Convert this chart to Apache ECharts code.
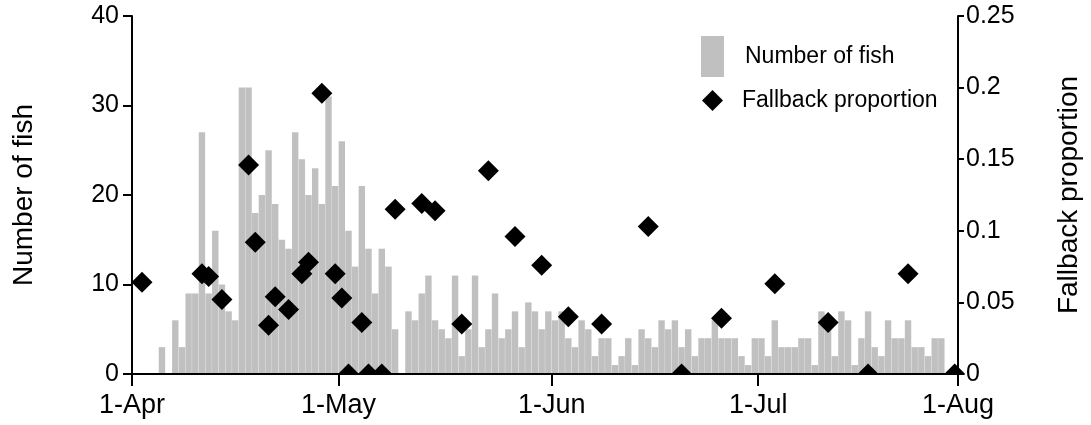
<!DOCTYPE html>
<html>
<head>
<meta charset="utf-8">
<script src="https://cdn.jsdelivr.net/npm/echarts@6/dist/echarts.min.js"></script>
<style>
  html, body { margin: 0; padding: 0; background: #fff; }
  #chart { width: 1091px; height: 425px; }
</style>
</head>
<body>
<div id="chart"></div>
<script>
// Daily number of fish, index 0 = 1-Apr
const fishCounts = [
  0, 0, 0, 0, 3, 0, 6, 3, 9, 9,
  27, 9, 16, 10, 7, 6, 32, 32, 18, 20,
  25, 19, 15, 14, 27, 24, 20, 23, 19, 31,
  21, 26, 16, 12, 21, 14, 9, 14, 12, 5,
  0, 7, 6, 9, 11, 6, 5, 4, 11, 2,
  5, 11, 3, 5, 9, 4, 5, 7, 3, 8,
  7, 5, 7, 6, 7, 4, 3, 6, 5, 2,
  4, 4, 1, 2, 4, 1, 5, 4, 3, 6,
  5, 6, 3, 5, 2, 4, 4, 6, 4, 4,
  4, 2, 1, 4, 4, 2, 6, 3, 3, 3,
  4, 4, 1, 7, 5, 2, 7, 6, 1, 4,
  7, 3, 2, 6, 4, 4, 6, 3, 3, 2,
  4, 4
];

// Fallback proportion: day offset from 1-Apr and value
const fallbackDays = [1, 10, 11, 13, 17, 18, 20, 21, 23, 25, 26, 28, 30, 31, 32, 34, 35, 37, 39,
  43, 45, 49, 53, 57, 61, 65, 70, 77, 82, 88, 96, 104, 110, 116, 123];
const fallbackProportion = [0.064, 0.070, 0.068, 0.052, 0.146, 0.092, 0.034, 0.054, 0.045, 0.070,
  0.078, 0.196, 0.070, 0.053, 0, 0.036, 0, 0, 0.115,
  0.119, 0.114, 0.035, 0.142, 0.096, 0.076, 0.040, 0.035, 0.103, 0, 0.039,
  0.063, 0.036, 0, 0.070, 0];

// x-axis tick positions (day offsets) and labels
const xTickDays = [0, 31, 63, 94, 124];
const xTickLabels = ['1-Apr', '1-May', '1-Jun', '1-Jul', '1-Aug'];

const FONT = 'Liberation Sans, Arial, sans-serif';

const chart = echarts.init(document.getElementById('chart'), null, { renderer: 'canvas' });

const option = {
  animation: false,
  backgroundColor: '#fff',
  grid: { left: 132, right: 127, top: 16, bottom: 51, containLabel: false },
  legend: [
    {
      data: [{ name: 'Number of fish', icon: 'rect' }],
      left: 696, top: 31,
      itemWidth: 23, itemHeight: 41,
      selectedMode: false,
      textStyle: { fontFamily: FONT, fontSize: 23, color: '#000', padding: [0, 0, 0, 16] }
    },
    {
      data: [{ name: 'Fallback proportion', icon: 'diamond' }],
      left: 697, top: 84,
      itemWidth: 21, itemHeight: 21,
      selectedMode: false,
      textStyle: { fontFamily: FONT, fontSize: 23, color: '#000', padding: [0, 0, 0, 14] }
    }
  ],
  xAxis: {
    type: 'value',
    min: 0, max: 124,
    z: 10,
    axisLine: { show: true, lineStyle: { color: '#000', width: 2 } },
    axisTick: { show: true, length: 12, lineStyle: { color: '#000', width: 2 }, customValues: xTickDays },
    axisLabel: {
      customValues: xTickDays,
      formatter: function (v) {
        const k = xTickDays.indexOf(Math.round(v));
        return k >= 0 ? xTickLabels[k] : '';
      },
      fontFamily: FONT, fontSize: 27, color: '#000', margin: 18
    },
    splitLine: { show: false }
  },
  yAxis: [
    {
      type: 'value', position: 'left',
      min: 0, max: 40, interval: 10,
      z: 10,
      name: 'Number of fish',
      nameLocation: 'middle', nameRotate: 90, nameGap: 94,
      nameTextStyle: { fontFamily: FONT, fontSize: 28, color: '#000' },
      axisLine: { show: true, lineStyle: { color: '#000', width: 2 } },
      axisTick: { show: true, length: 9, lineStyle: { color: '#000', width: 2 } },
      axisLabel: { fontFamily: FONT, fontSize: 25, color: '#000', margin: 13 },
      splitLine: { show: false }
    },
    {
      type: 'value', position: 'right',
      min: 0, max: 0.25, interval: 0.05,
      z: 10,
      name: 'Fallback proportion',
      nameLocation: 'middle', nameRotate: 90, nameGap: 97,
      nameTextStyle: { fontFamily: FONT, fontSize: 28, color: '#000' },
      axisLine: { show: true, lineStyle: { color: '#000', width: 2 } },
      axisTick: { show: true, length: 6, lineStyle: { color: '#000', width: 2 } },
      axisLabel: { fontFamily: FONT, fontSize: 25, color: '#000', margin: 8 },
      splitLine: { show: false }
    }
  ],
  graphic: [
    {
      type: 'rect', z: 5,
      shape: { x: 110, y: 375, width: 880, height: 14 },
      style: { fill: '#fff' }
    }
  ],
  series: [
    {
      name: 'Number of fish',
      type: 'bar',
      xAxisIndex: 0, yAxisIndex: 0,
      barWidth: 6.4,
      itemStyle: { color: '#c0c0c0' },
      data: fishCounts.map((v, i) => [i + 0.5, v]),
      z: 1
    },
    {
      name: 'Fallback proportion',
      type: 'scatter',
      xAxisIndex: 0, yAxisIndex: 1,
      symbol: 'diamond',
      symbolSize: 21,
      itemStyle: { color: '#000', opacity: 1 },
      data: fallbackDays.map((d, i) => [d + 0.5, fallbackProportion[i]]),
      z: 3
    }
  ]
};

chart.setOption(option);
</script>
</body>
</html>
